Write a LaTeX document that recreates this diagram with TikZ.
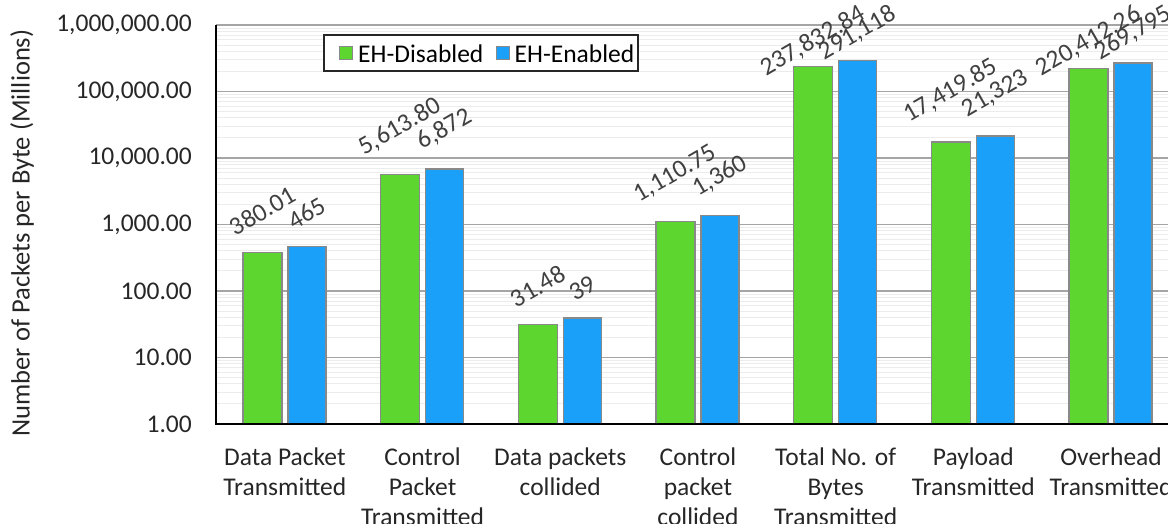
\documentclass[tikz,border=0pt]{standalone}
\usepackage{fontspec}
\setmainfont{Carlito}
\usetikzlibrary{positioning}

\definecolor{ehoff}{RGB}{94,214,48}
\definecolor{ehon}{RGB}{27,160,250}
\definecolor{barline}{RGB}{137,137,137}
\definecolor{majorgrid}{RGB}{165,165,165}
\definecolor{minorgrid}{RGB}{236,236,236}
\definecolor{txt}{RGB}{38,38,38}
\definecolor{vallabel}{RGB}{64,64,64}

\begin{document}
\begin{tikzpicture}
  [x=1pt, y=1pt,
   every node/.style = {font=\fontsize{25.5}{30}\selectfont, text=txt},
   bar/.style = {draw=barline, line width=1.5pt},
   val/.style = {anchor=south, inner sep=0pt, text=vallabel, yshift=16pt},
   clamp/.style = {anchor=north, inner sep=0pt, text=vallabel},
   cat/.style = {anchor=north, align=center, inner sep=0pt},
   tick/.style = {anchor=east, inner sep=0pt},
   key/.style = {draw=barline, line width=1pt, minimum width=13pt,
     minimum height=13pt, inner sep=0pt}
  ]
  \useasboundingbox (-216,-100) rectangle (952,424);

  % log axis, one decade = 66.5pt
  \begin{scope}[y=66.5pt]
    \foreach \d in {0,...,5}
      \foreach \m in {2,...,9}
        \draw[minorgrid, line width=1pt] (0,{\d+log10(\m)}) -- (960,{\d+log10(\m)});
    \foreach \d in {1,...,6}
      \draw[majorgrid, line width=1.3pt] (0,\d) -- (960,\d);
    \foreach \d/\t in {0/1.00, 1/10.00, 2/100.00, 3/{1,000.00},
        4/{10,000.00}, 5/{100,000.00}, 6/{1,000,000.00}}
      \node[tick] (tick\d) at (-24,\d) {\t};

    % bars: log10 of each value, the printed value, and 1 when the
    % label has to be pushed down under the top edge
    \foreach \i/\a/\b/\ta/\tb/\k in {
        1/2.5798/2.6675/380.01/465/0,
        2/3.7492/3.8371/{5,613.80}/{6,872}/0,
        3/1.4980/1.5911/31.48/39/0,
        4/3.0456/3.1335/{1,110.75}/{1,360}/0,
        5/5.3763/5.4641/{237,832.84}/{291,118}/1,
        6/4.2410/4.3289/{17,419.85}/{21,323}/0,
        7/5.3432/5.4310/{220,412.26}/{269,795}/1}
    {
      \pgfmathsetmacro\c{68.85+137.7*(\i-1)}
      \draw[bar, fill=ehoff] (\c-42,0) rectangle (\c-3,\a);
      \draw[bar, fill=ehon] (\c+3,0) rectangle (\c+41,\b);
      \ifnum\k=1
        \def\ya{6.33}\def\yb{6.33}\def\vs{clamp}
      \else
        \let\ya\a \let\yb\b \def\vs{val}
      \fi
      \node[\vs] (off\i) at (\c-22.5,\ya) {\rotatebox{30}{\ta}};
      \node[\vs] (on\i) at (\c+22,\yb) {\rotatebox{30}{\tb}};
    }
    \draw[black, line width=1.5pt] (0,6) -- (0,0) -- (960,0);
  \end{scope}

  \foreach \i/\t in {1/{Data Packet\\Transmitted},
      2/{Control\\Packet\\Transmitted}, 3/{Data packets\\collided},
      4/{Control\\packet\\collided}, 5/{Total No. of\\Bytes\\Transmitted},
      6/{Payload\\Transmitted}, 7/{Overhead\\Transmitted}}
    \node[cat] (cat\i) at ({68.85+137.7*(\i-1)},-24) {\t};

  \node[rotate=90, font=\fontsize{26.5}{30}\selectfont] (ytitle) at (-194,191)
    {Number of Packets per Byte (Millions)};

  % legend
  \draw[draw=txt, fill=white, line width=1.2pt] (108,353) rectangle (422,389);
  \node[key, fill=ehoff] (kdis) at (130,370.5) {};
  \node[right=5pt of kdis, inner sep=0pt, text=black] (ldis) {EH-Disabled};
  \node[key, fill=ehon] (ken) at (286.5,370.5) {};
  \node[right=5pt of ken, inner sep=0pt, text=black] (len) {EH-Enabled};
\end{tikzpicture}
\end{document}
